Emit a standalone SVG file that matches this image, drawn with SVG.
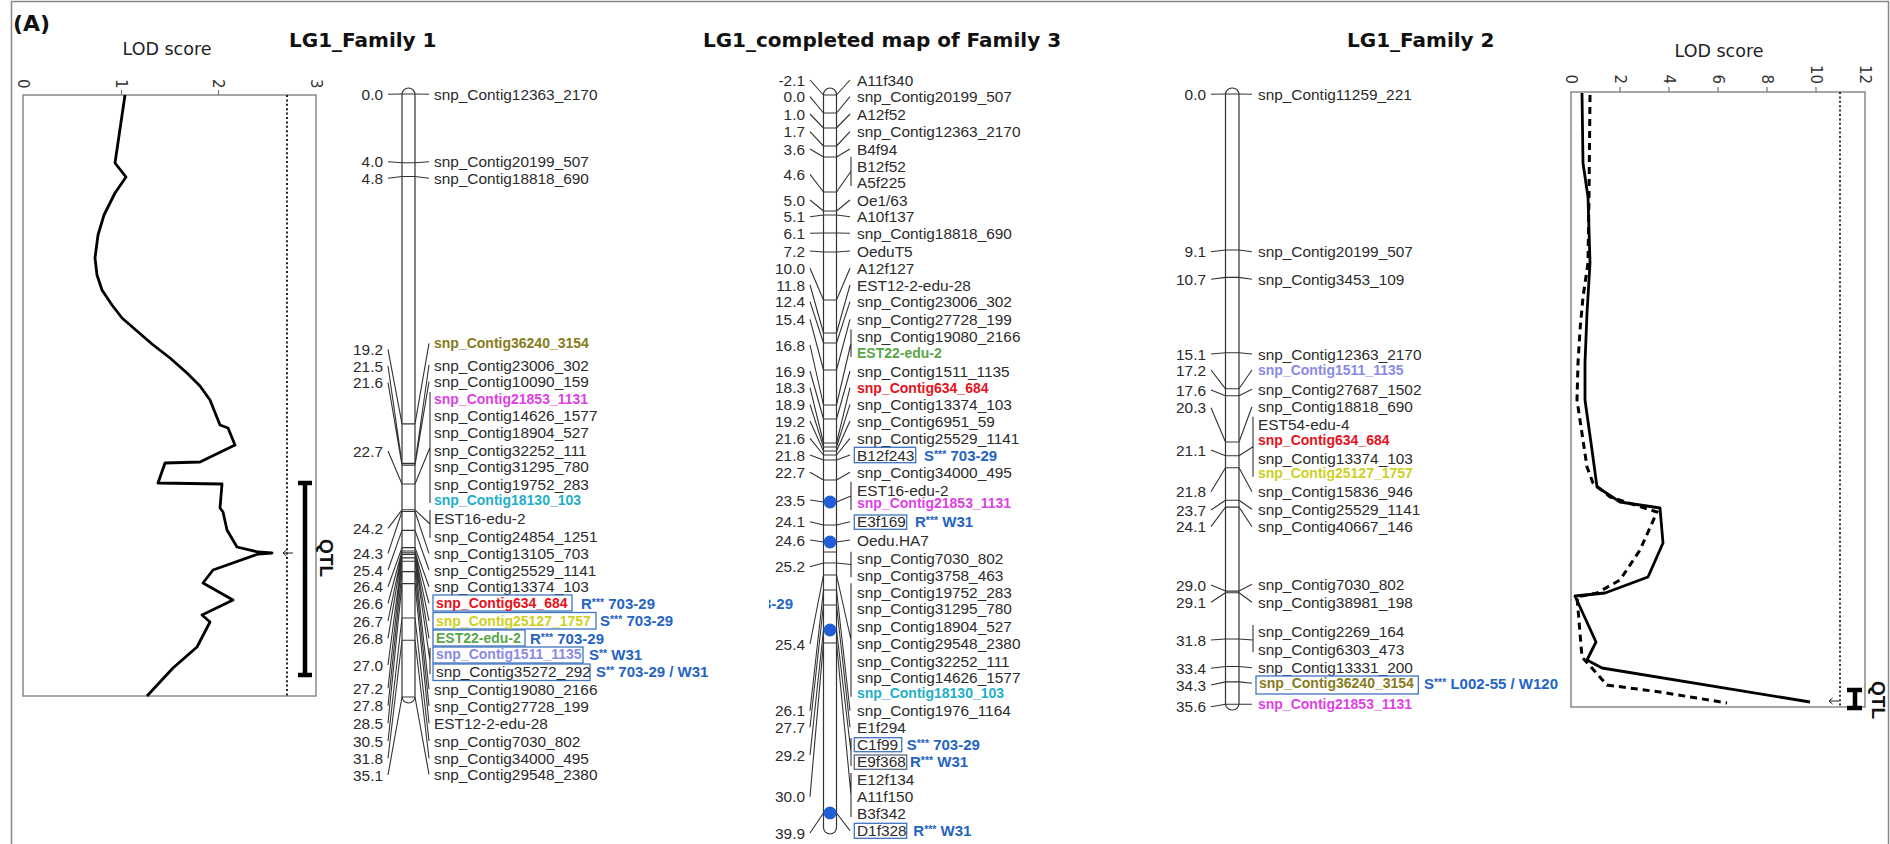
<svg xmlns="http://www.w3.org/2000/svg" width="1890" height="844" viewBox="0 0 1890 844">
<defs>
<style>
text{font-family:"Liberation Sans",Arial,sans-serif}
.t{font-size:15.4px;fill:#2b2b2b}
.n{font-size:15.4px;fill:#2b2b2b;text-anchor:end}
.bd{font-size:14px;font-weight:bold}
.an{font-size:15px;font-weight:bold;fill:#2563c4}
.s{font-size:10.5px}
.ttl{font-family:"DejaVu Sans",Verdana,sans-serif;font-size:20px;font-weight:bold;fill:#111}
.lod{font-family:"DejaVu Sans",Verdana,sans-serif;font-size:17.5px;fill:#222;text-anchor:middle}
.ax{font-family:"DejaVu Sans",Verdana,sans-serif;font-size:15px;fill:#333;text-anchor:end}
.qtl{font-size:19px;font-weight:bold;fill:#111;text-anchor:middle}
.bar{fill:#fff;stroke:#333;stroke-width:1.2}
.tk{stroke:#333;stroke-width:1.1;fill:none}
.cn{stroke:#333;stroke-width:1.1;fill:none}
.box{fill:none;stroke:#3f74c0;stroke-width:1.3}
.frm{fill:none;stroke:#777;stroke-width:1.3}
.crv{fill:none;stroke:#000;stroke-width:2.8;stroke-linejoin:round}
.dcrv{fill:none;stroke:#000;stroke-width:3;stroke-dasharray:7 5}
.thr{fill:none;stroke:#222;stroke-width:2;stroke-dasharray:2 2.4}
.qbar{stroke:#000;stroke-width:4.5;fill:none}
.arr{stroke:#222;stroke-width:1;fill:none}
.dot{fill:#1f5fd6}
.ol{fill:#877b1c}.mg{fill:#e03fe6}.cy{fill:#22aec6}.rd{fill:#e5121c}.ye{fill:#cfcf1e}.gr{fill:#5aa64a}.lv{fill:#8a8ae4}
</style>
<clipPath id="cp"><rect x="769" y="590" width="40" height="25"/></clipPath>
</defs>
<rect width="1890" height="844" fill="#fff"/>
<rect x="11.5" y="1.5" width="1877" height="850" fill="none" stroke="#888" stroke-width="1.5"/>
<text x="13" y="31" style="font-family:'DejaVu Sans',sans-serif;font-size:22px;font-weight:bold;fill:#111">(A)</text>

<g id="lod-left">
<text class="lod" x="167" y="55">LOD score</text>
<rect class="frm" x="23" y="95" width="293" height="601"/>
<path d="M121.5,95V90M218.5,95V90" stroke="#777" stroke-width="1.2"/>
<text class="ax" transform="translate(17.5,88.5) rotate(90)">0</text>
<text class="ax" transform="translate(115.5,88.5) rotate(90)">1</text>
<text class="ax" transform="translate(212.5,88.5) rotate(90)">2</text>
<text class="ax" transform="translate(310.5,88.5) rotate(90)">3</text>
<line class="thr" x1="287" y1="95" x2="287" y2="696"/>
<polyline class="crv" points="125,95 115,163 126,177 115,193 104,215 98,235 95,258 97,275 102,290 112,305 122,318 137,331 152,344 170,358 187,373 200,386 210,400 220,425 228,428 235,445 200,462 165,463 158,483 222,484 220,508 223,512 227,530 237,547 258,552 272,553 258,554 213,570 203,583 233,600 202,615 210,622 197,647 173,668 147,696"/>
<path class="arr" d="M293,553H283M286.5,550L283,553L286.5,556"/>
<path class="qbar" d="M305,483V675M298,483H312M298,675H312"/>
<text class="qtl" transform="translate(320,558) rotate(90)">QTL</text>
</g>

<g id="lod-right">
<text class="lod" x="1719" y="57">LOD score</text>
<rect class="frm" x="1571" y="92" width="294" height="615"/>
<path d="M1620,92V87M1669,92V87M1718,92V87M1767,92V87M1816,92V87" stroke="#777" stroke-width="1.2"/>
<text class="ax" transform="translate(1565.5,84) rotate(90)">0</text>
<text class="ax" transform="translate(1614.5,84) rotate(90)">2</text>
<text class="ax" transform="translate(1663.5,84) rotate(90)">4</text>
<text class="ax" transform="translate(1712.5,84) rotate(90)">6</text>
<text class="ax" transform="translate(1761.5,84) rotate(90)">8</text>
<text class="ax" transform="translate(1810.5,84) rotate(90)">10</text>
<text class="ax" transform="translate(1859.5,84) rotate(90)">12</text>
<line class="thr" x1="1840" y1="92" x2="1840" y2="707" style="stroke-width:1.8"/>
<polyline class="crv" points="1582,93 1583,163 1588,197 1590,263 1587,313 1585,363 1585,400 1592,450 1597,487 1620,502 1660,508 1663,543 1648,577 1605,593 1575,596 1596,642 1587,660 1602,668 1810,702"/>
<polyline class="dcrv" points="1590,95 1589,197 1588,263 1583,297 1580,330 1578,363 1577,400 1587,467 1593,483 1610,497 1657,512 1640,550 1620,580 1597,593 1577,597 1582,657 1607,685 1660,692 1727,703"/>
<path class="arr" d="M1839,701H1829M1832.5,698L1829,701L1832.5,704"/>
<path class="qbar" d="M1855,690V708M1847,690H1862M1847,708H1862"/>
<text class="qtl" transform="translate(1872,700) rotate(90)">QTL</text>
</g>

<g id="connectors">
<path class="cn" d="M388,94.3L402,94M388,161.7L402,162.7M388,178.3L402,176.5M388,349.3L402,423.9M388,366L402,463.4M388,382.7L402,465.1M388,451L402,484M388,528.3L402,509.8M388,553.3L402,511.5M388,570L402,530.4M388,586.7L402,547.6M388,603.3L402,551M388,621L402,552.7M388,638.3L402,554.4M388,665L402,557.9M388,688.3L402,561.3M388,705.7L402,571.6M388,723.3L402,583.6M388,741L402,618M388,758.3L402,640.3M388,775L402,697"/>
<path class="cn" d="M415,94L429,94.3M415,162.7L429,161.7M415,176.5L429,178.3M415,423.9L429,343.3M415,463.4L429,365M415,465.1L429,381.7M415,484L430,447.5M430,392V503M415,509.8L430,524M430,510V538M415,511.5L429,553.3M415,530.4L429,570M415,547.6L429,586.7M415,551L429,603.3M415,552.7L429,621M415,554.4L429,638.3M415,557.9L430,661M430,648V674M415,561.3L429,689.3M415,571.6L429,706M415,583.6L429,723.3M415,618L429,741M415,640.3L429,758.3M415,697L429,774.3"/>
<path class="cn" d="M810,80L823.5,95M810,96.7L823.5,113M810,114L823.5,128M810,131.7L823.5,146M810,149L823.5,157M810,174.3L823.5,192M810,200L823.5,211M810,216.7L823.5,215M810,233.3L823.5,233M810,251L823.5,252M810,268.3L823.5,300M810,285L823.5,333M810,301.7L823.5,343M810,319.3L823.5,370M810,345L823.5,405M810,371L823.5,419M810,387.7L823.5,443M810,404.3L823.5,447M810,421L823.5,451M810,438.3L823.5,455M810,455L823.5,460M810,472.3L823.5,480M810,500L823.5,502M810,521.7L823.5,525M810,540L823.5,542M810,566.7L823.5,563M810,644L823.5,575M810,710.7L823.5,590M810,727.3L823.5,605M810,755L823.5,630M810,796.7L823.5,643M810,833L823.5,813"/>
<path class="cn" d="M836.5,95L850,80M836.5,113L850,96.7M836.5,128L850,114M836.5,146L850,131.7M836.5,157L850,149M836.5,192L851,171.3M851,156.7V186M836.5,211L850,200M836.5,215L850,216.7M836.5,233L850,233.3M836.5,252L850,251M836.5,300L850,268.3M836.5,333L850,285M836.5,343L850,301.7M836.5,370L850,319.3M836.5,405L851,343M851,329.3V356.7M836.5,419L850,371M836.5,443L850,387.7M836.5,447L850,404.3M836.5,451L850,421M836.5,455L850,438.3M836.5,460L850,455M836.5,480L850,472.3M836.5,502L851,496M851,481.7V510M836.5,525L850,521.7M836.5,542L850,540M836.5,563L851,564.5M851,551.7V577.3M836.5,575L851,640M851,583.3V696.7M836.5,590L850,710.7M836.5,605L850,727.3M836.5,630L851,752M851,738V766M836.5,643L851,795M851,773V817M836.5,813L850,830.7"/>
<path class="cn" d="M1211,94.3L1225.5,94M1211,251.7L1225.5,250M1211,279.3L1225.5,277.4M1211,354L1225.5,352.8M1211,370L1225.5,388.8M1211,390L1225.5,395.7M1211,407.7L1225.5,442M1211,450L1225.5,455.7M1211,491.7L1225.5,467.7M1211,510L1225.5,500.2M1211,526.7L1225.5,507.1M1211,585L1225.5,591.1M1211,602.3L1225.5,592.8M1211,640L1225.5,639M1211,668.3L1225.5,666.5M1211,685L1225.5,681.9M1211,706.7L1225.5,704.2"/>
<path class="cn" d="M1239,94L1252,94.3M1239,250L1252,251.7M1239,277.4L1252,279.3M1239,352.8L1252,354M1239,388.8L1252,370M1239,395.7L1252,389.3M1239,442L1252,406.7M1239,455.7L1253,446.7M1253,416.7V476.7M1239,467.7L1252,491.7M1239,500.2L1252,509.3M1239,507.1L1252,526.7M1239,591.1L1252,584.3M1239,592.8L1252,602.3M1239,639L1253,640M1253,625V652.3M1239,666.5L1252,667.7M1239,681.9L1252,683.3M1239,704.2L1252,704.3"/>
</g>

<g id="family1">
<text class="ttl" x="289" y="47">LG1_Family 1</text>
<rect class="bar" x="402" y="88" width="13" height="615" rx="6.5"/>
<path class="tk" d="M402,94H415M402,162.7H415M402,176.5H415M402,423.9H415M402,463.4H415M402,465.1H415M402,484H415M402,509.8H415M402,511.5H415M402,530.4H415M402,547.6H415M402,551H415M402,552.7H415M402,554.4H415M402,557.9H415M402,561.3H415M402,571.6H415M402,583.6H415M402,618H415M402,640.3H415M402,697H415"/>
<text class="n" x="383" y="99.8">0.0</text>
<text class="n" x="383" y="167.2">4.0</text>
<text class="n" x="383" y="183.8">4.8</text>
<text class="n" x="383" y="354.8">19.2</text>
<text class="n" x="383" y="371.5">21.5</text>
<text class="n" x="383" y="388.2">21.6</text>
<text class="n" x="383" y="456.5">22.7</text>
<text class="n" x="383" y="533.8">24.2</text>
<text class="n" x="383" y="558.8">24.3</text>
<text class="n" x="383" y="575.5">25.4</text>
<text class="n" x="383" y="592.2">26.4</text>
<text class="n" x="383" y="608.8">26.6</text>
<text class="n" x="383" y="626.5">26.7</text>
<text class="n" x="383" y="643.8">26.8</text>
<text class="n" x="383" y="670.5">27.0</text>
<text class="n" x="383" y="693.8">27.2</text>
<text class="n" x="383" y="711.2">27.8</text>
<text class="n" x="383" y="728.8">28.5</text>
<text class="n" x="383" y="746.5">30.5</text>
<text class="n" x="383" y="763.8">31.8</text>
<text class="n" x="383" y="780.5">35.1</text>
<text class="t" x="434" y="99.8">snp_Contig12363_2170</text>
<text class="t" x="434" y="167.2">snp_Contig20199_507</text>
<text class="t" x="434" y="183.8">snp_Contig18818_690</text>
<text class="t bd ol" x="434" y="348.3">snp_Contig36240_3154</text>
<text class="t" x="434" y="370.5">snp_Contig23006_302</text>
<text class="t" x="434" y="387.2">snp_Contig10090_159</text>
<text class="t bd mg" x="434" y="404">snp_Contig21853_1131</text>
<text class="t" x="434" y="421.2">snp_Contig14626_1577</text>
<text class="t" x="434" y="437.8">snp_Contig18904_527</text>
<text class="t" x="434" y="455.5">snp_Contig32252_111</text>
<text class="t" x="434" y="472.2">snp_Contig31295_780</text>
<text class="t" x="434" y="489.8">snp_Contig19752_283</text>
<text class="t bd cy" x="434" y="505">snp_Contig18130_103</text>
<text class="t" x="434" y="523.8">EST16-edu-2</text>
<text class="t" x="434" y="541.5">snp_Contig24854_1251</text>
<text class="t" x="434" y="558.8">snp_Contig13105_703</text>
<text class="t" x="434" y="575.5">snp_Contig25529_1141</text>
<text class="t" x="434" y="592.2">snp_Contig13374_103</text>
<rect class="box" x="433" y="595" width="139" height="16"/>
<text class="t bd rd" x="436" y="608.3">snp_Contig634_684</text>
<rect class="box" x="433" y="612.5" width="163" height="16.5"/>
<text class="t bd ye" x="436" y="626">snp_Contig25127_1757</text>
<rect class="box" x="433" y="630" width="92" height="16"/>
<text class="t bd gr" x="436" y="643.3">EST22-edu-2</text>
<rect class="box" x="433" y="647" width="150" height="16"/>
<text class="t bd lv" x="436" y="659.3">snp_Contig1511_1135</text>
<rect class="box" x="433" y="664" width="157" height="16.5"/>
<text class="t" x="436" y="677.2">snp_Contig35272_292</text>
<text class="t" x="434" y="694.8">snp_Contig19080_2166</text>
<text class="t" x="434" y="711.5">snp_Contig27728_199</text>
<text class="t" x="434" y="728.8">EST12-2-edu-28</text>
<text class="t" x="434" y="746.5">snp_Contig7030_802</text>
<text class="t" x="434" y="763.8">snp_Contig34000_495</text>
<text class="t" x="434" y="779.8">snp_Contig29548_2380</text>
<text class="an" x="581" y="608.5">R<tspan class="s" dy="-3">***</tspan><tspan dy="3"> 703-29</tspan></text>
<text class="an" x="600" y="626">S<tspan class="s" dy="-3">***</tspan><tspan dy="3"> 703-29</tspan></text>
<text class="an" x="530" y="643.5">R<tspan class="s" dy="-3">***</tspan><tspan dy="3"> 703-29</tspan></text>
<text class="an" x="589" y="659.5">S<tspan class="s" dy="-3">**</tspan><tspan dy="3"> W31</tspan></text>
<text class="an" x="596" y="677">S<tspan class="s" dy="-3">**</tspan><tspan dy="3"> 703-29 / W31</tspan></text>
</g>

<g id="family3">
<text class="ttl" x="882" y="47" text-anchor="middle">LG1_completed map of Family 3</text>
<rect class="bar" x="823.5" y="88" width="13" height="746" rx="6.5"/>
<path class="tk" d="M823.5,95H836.5M823.5,113H836.5M823.5,128H836.5M823.5,146H836.5M823.5,157H836.5M823.5,192H836.5M823.5,211H836.5M823.5,215H836.5M823.5,233H836.5M823.5,252H836.5M823.5,300H836.5M823.5,333H836.5M823.5,343H836.5M823.5,370H836.5M823.5,405H836.5M823.5,419H836.5M823.5,443H836.5M823.5,447H836.5M823.5,451H836.5M823.5,455H836.5M823.5,460H836.5M823.5,480H836.5M823.5,525H836.5M823.5,552H836.5M823.5,563H836.5M823.5,575H836.5M823.5,590H836.5M823.5,605H836.5M823.5,643H836.5"/>
<circle class="dot" cx="830" cy="502" r="6.5"/>
<circle class="dot" cx="830" cy="542" r="6.5"/>
<circle class="dot" cx="830" cy="630" r="6.5"/>
<circle class="dot" cx="830" cy="813" r="6.5"/>
<text class="n" x="805" y="85.5">-2.1</text>
<text class="n" x="805" y="102.2">0.0</text>
<text class="n" x="805" y="119.5">1.0</text>
<text class="n" x="805" y="137.2">1.7</text>
<text class="n" x="805" y="154.5">3.6</text>
<text class="n" x="805" y="179.8">4.6</text>
<text class="n" x="805" y="205.5">5.0</text>
<text class="n" x="805" y="222.2">5.1</text>
<text class="n" x="805" y="238.8">6.1</text>
<text class="n" x="805" y="256.5">7.2</text>
<text class="n" x="805" y="273.8">10.0</text>
<text class="n" x="805" y="290.5">11.8</text>
<text class="n" x="805" y="307.2">12.4</text>
<text class="n" x="805" y="324.8">15.4</text>
<text class="n" x="805" y="350.5">16.8</text>
<text class="n" x="805" y="376.5">16.9</text>
<text class="n" x="805" y="393.2">18.3</text>
<text class="n" x="805" y="409.8">18.9</text>
<text class="n" x="805" y="426.5">19.2</text>
<text class="n" x="805" y="443.8">21.6</text>
<text class="n" x="805" y="460.5">21.8</text>
<text class="n" x="805" y="477.8">22.7</text>
<text class="n" x="805" y="505.5">23.5</text>
<text class="n" x="805" y="527.2">24.1</text>
<text class="n" x="805" y="545.5">24.6</text>
<text class="n" x="805" y="572.2">25.2</text>
<text class="n" x="805" y="649.5">25.4</text>
<text class="n" x="805" y="716.2">26.1</text>
<text class="n" x="805" y="732.8">27.7</text>
<text class="n" x="805" y="760.5">29.2</text>
<text class="n" x="805" y="802.2">30.0</text>
<text class="n" x="805" y="838.5">39.9</text>
<text class="an" x="793" y="608.5" text-anchor="end" clip-path="url(#cp)">703-29</text>
<text class="t" x="857" y="85.5">A11f340</text>
<text class="t" x="857" y="102.2">snp_Contig20199_507</text>
<text class="t" x="857" y="119.5">A12f52</text>
<text class="t" x="857" y="137.2">snp_Contig12363_2170</text>
<text class="t" x="857" y="154.5">B4f94</text>
<text class="t" x="857" y="171.5">B12f52</text>
<text class="t" x="857" y="188.2">A5f225</text>
<text class="t" x="857" y="205.5">Oe1/63</text>
<text class="t" x="857" y="222.2">A10f137</text>
<text class="t" x="857" y="238.8">snp_Contig18818_690</text>
<text class="t" x="857" y="256.5">OeduT5</text>
<text class="t" x="857" y="273.8">A12f127</text>
<text class="t" x="857" y="290.5">EST12-2-edu-28</text>
<text class="t" x="857" y="307.2">snp_Contig23006_302</text>
<text class="t" x="857" y="324.8">snp_Contig27728_199</text>
<text class="t" x="857" y="341.5">snp_Contig19080_2166</text>
<text class="t bd gr" x="857" y="358.3">EST22-edu-2</text>
<text class="t" x="857" y="376.5">snp_Contig1511_1135</text>
<text class="t bd rd" x="857" y="392.7">snp_Contig634_684</text>
<text class="t" x="857" y="409.8">snp_Contig13374_103</text>
<text class="t" x="857" y="426.5">snp_Contig6951_59</text>
<text class="t" x="857" y="443.8">snp_Contig25529_1141</text>
<rect class="box" x="854.3" y="447.3" width="61.4" height="15.4"/>
<text class="t" x="857" y="460.5">B12f243</text>
<text class="an" x="924" y="460.5">S<tspan class="s" dy="-3">***</tspan><tspan dy="3"> 703-29</tspan></text>
<text class="t" x="857" y="477.8">snp_Contig34000_495</text>
<text class="t" x="857" y="495.5">EST16-edu-2</text>
<text class="t bd mg" x="857" y="508.3">snp_Contig21853_1131</text>
<rect class="box" x="854.3" y="515" width="52.4" height="14.3"/>
<text class="t" x="857" y="527.2">E3f169</text>
<text class="an" x="915" y="527.2">R<tspan class="s" dy="-3">***</tspan><tspan dy="3"> W31</tspan></text>
<text class="t" x="857" y="545.5">Oedu.HA7</text>
<text class="t" x="857" y="563.8">snp_Contig7030_802</text>
<text class="t" x="857" y="580.5">snp_Contig3758_463</text>
<text class="t" x="857" y="597.8">snp_Contig19752_283</text>
<text class="t" x="857" y="614.2">snp_Contig31295_780</text>
<text class="t" x="857" y="631.5">snp_Contig18904_527</text>
<text class="t" x="857" y="648.8">snp_Contig29548_2380</text>
<text class="t" x="857" y="666.5">snp_Contig32252_111</text>
<text class="t" x="857" y="683.2">snp_Contig14626_1577</text>
<text class="t bd cy" x="857" y="698.3">snp_Contig18130_103</text>
<text class="t" x="857" y="716.2">snp_Contig1976_1164</text>
<text class="t" x="857" y="732.8">E1f294</text>
<rect class="box" x="854.3" y="737.7" width="47.4" height="14"/>
<text class="t" x="857" y="749.8">C1f99</text>
<text class="an" x="906.7" y="749.8">S<tspan class="s" dy="-3">***</tspan><tspan dy="3"> 703-29</tspan></text>
<rect class="box" x="854.3" y="755" width="52.4" height="14.3" style="stroke:#5a6a86"/>
<text class="t" x="857" y="767.2">E9f368</text>
<text class="an" x="910" y="767.2">R<tspan class="s" dy="-3">***</tspan><tspan dy="3"> W31</tspan></text>
<text class="t" x="857" y="784.8">E12f134</text>
<text class="t" x="857" y="802.2">A11f150</text>
<text class="t" x="857" y="818.8">B3f342</text>
<rect class="box" x="854.3" y="823.3" width="52.4" height="15"/>
<text class="t" x="857" y="836.2">D1f328</text>
<text class="an" x="913.3" y="836.2">R<tspan class="s" dy="-3">***</tspan><tspan dy="3"> W31</tspan></text>
</g>

<g id="family2">
<text class="ttl" x="1347" y="47">LG1_Family 2</text>
<rect class="bar" x="1225.5" y="88" width="13.5" height="622" rx="6.5"/>
<path class="tk" d="M1225.5,94H1239M1225.5,250H1239M1225.5,277.4H1239M1225.5,352.8H1239M1225.5,388.8H1239M1225.5,395.7H1239M1225.5,442H1239M1225.5,455.7H1239M1225.5,467.7H1239M1225.5,500.2H1239M1225.5,507.1H1239M1225.5,591.1H1239M1225.5,592.8H1239M1225.5,639H1239M1225.5,666.5H1239M1225.5,681.9H1239M1225.5,704.2H1239"/>
<text class="n" x="1206" y="99.8">0.0</text>
<text class="n" x="1206" y="257.2">9.1</text>
<text class="n" x="1206" y="284.8">10.7</text>
<text class="n" x="1206" y="359.5">15.1</text>
<text class="n" x="1206" y="375.5">17.2</text>
<text class="n" x="1206" y="395.5">17.6</text>
<text class="n" x="1206" y="413.2">20.3</text>
<text class="n" x="1206" y="455.5">21.1</text>
<text class="n" x="1206" y="497.2">21.8</text>
<text class="n" x="1206" y="515.5">23.7</text>
<text class="n" x="1206" y="532.2">24.1</text>
<text class="n" x="1206" y="590.5">29.0</text>
<text class="n" x="1206" y="607.8">29.1</text>
<text class="n" x="1206" y="645.5">31.8</text>
<text class="n" x="1206" y="673.8">33.4</text>
<text class="n" x="1206" y="690.5">34.3</text>
<text class="n" x="1206" y="712.2">35.6</text>
<text class="t" x="1258" y="99.8">snp_Contig11259_221</text>
<text class="t" x="1258" y="257.2">snp_Contig20199_507</text>
<text class="t" x="1258" y="284.8">snp_Contig3453_109</text>
<text class="t" x="1258" y="359.5">snp_Contig12363_2170</text>
<text class="t bd lv" x="1258" y="375">snp_Contig1511_1135</text>
<text class="t" x="1258" y="394.8">snp_Contig27687_1502</text>
<text class="t" x="1258" y="412.2">snp_Contig18818_690</text>
<text class="t" x="1258" y="429.5">EST54-edu-4</text>
<text class="t bd rd" x="1258" y="445">snp_Contig634_684</text>
<text class="t" x="1258" y="463.8">snp_Contig13374_103</text>
<text class="t bd ye" x="1258" y="478.3">snp_Contig25127_1757</text>
<text class="t" x="1258" y="497.2">snp_Contig15836_946</text>
<text class="t" x="1258" y="514.8">snp_Contig25529_1141</text>
<text class="t" x="1258" y="532.2">snp_Contig40667_146</text>
<text class="t" x="1258" y="589.8">snp_Contig7030_802</text>
<text class="t" x="1258" y="607.8">snp_Contig38981_198</text>
<text class="t" x="1258" y="636.5">snp_Contig2269_164</text>
<text class="t" x="1258" y="654.5">snp_Contig6303_473</text>
<text class="t" x="1258" y="673.2">snp_Contig13331_200</text>
<rect class="box" x="1256" y="676" width="162.3" height="18"/>
<text class="t bd ol" x="1259" y="688.3">snp_Contig36240_3154</text>
<text class="an" x="1424" y="688.8">S<tspan class="s" dy="-3">***</tspan><tspan dy="3"> L002-55 / W120</tspan></text>
<text class="t bd mg" x="1258" y="709.3">snp_Contig21853_1131</text>
</g>
</svg>
